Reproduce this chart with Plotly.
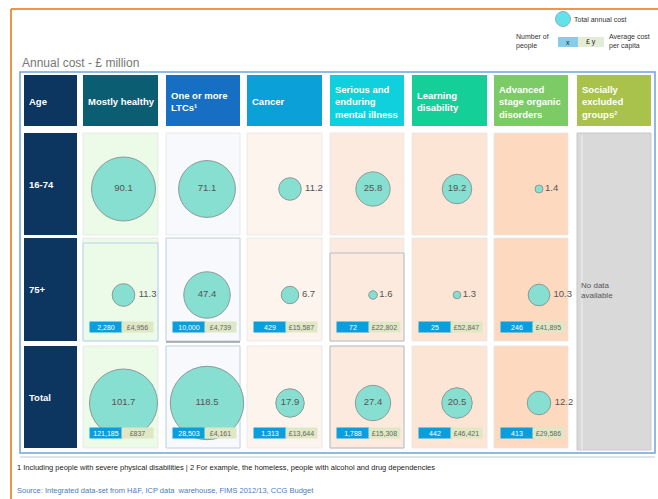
import plotly.graph_objects as go

# ---------------- data ----------------
headers = ["Age", "Mostly healthy", "One or more<br>LTCs¹", "Cancer",
           "Serious and<br>enduring<br>mental illness", "Learning<br>disability",
           "Advanced<br>stage organic<br>disorders", "Socially<br>excluded<br>groups²"]
age_groups = ["16-74", "75+", "Total"]
cost_16_74 = [90.1, 71.1, 11.2, 25.8, 19.2, 1.4]
cost_75 = [11.3, 47.4, 6.7, 1.6, 1.3, 10.3]
cost_total = [101.7, 118.5, 17.9, 27.4, 20.5, 12.2]
people_75 = ["2,280", "10,000", "429", "72", "25", "246"]
avg_75 = ["£4,956", "£4,739", "£15,587", "£22,802", "£52,847", "£41,895"]
people_total = ["121,185", "28,503", "1,313", "1,788", "442", "413"]
avg_total = ["£837", "£4,161", "£13,644", "£15,308", "£46,421", "£29,586"]

# ---------------- layout constants ----------------
W, H = 658, 499
FONT = "Liberation Sans, Arial, sans-serif"
header_colors = ["#0c355f", "#0b5e72", "#166fc3", "#0ba0d8", "#0fd0dc",
                 "#15cf99", "#7ccb66", "#a8c24b"]
cell_colors = ["#ebfbe8", "#f7f9fc", "#fdf4ee", "#fdeade", "#fde5d6", "#fdd9c0"]
col_left = [24, 83, 166, 247, 330, 412, 494, 577]
col_right = [77, 158, 240, 322, 404, 487, 568, 651]
hdr_top, hdr_bot = 75, 126
row_top = [133, 238, 346]
row_bot = [235, 341, 448]
bubble_x = [123.5, 207, 290, 373, 457, 539]
bubble_y = [189, 295, 403]

shapes = []
ann = []

def rect(x0, y0, x1, y1, fill, line=None, lw=0):
    shapes.append(dict(type="rect", xref="x", yref="y", x0=x0, y0=y0, x1=x1, y1=y1,
                       fillcolor=fill, line=dict(color=line or fill, width=lw),
                       layer="below"))

def text(x, y, s, size=9, color="#333", bold=False, xanchor="left", yanchor="middle", align="left"):
    if bold:
        s = "<b>" + s + "</b>"
    ann.append(dict(x=x, y=y, xref="x", yref="y", text=s, showarrow=False,
                    xanchor=xanchor, yanchor=yanchor, align=align,
                    font=dict(family=FONT, size=size, color=color)))

# orange frame lines
shapes.append(dict(type="line", xref="x", yref="y", x0=11, y0=9, x1=W, y1=9,
                   line=dict(color="#f39343", width=2)))
shapes.append(dict(type="line", xref="x", yref="y", x0=11, y0=9, x1=11, y1=H,
                   line=dict(color="#f39343", width=2)))

# legend
text(514, 41, "Number of<br>people", size=7, color="#333")
rect(558, 37, 578, 47, "#86cde8")
rect(578, 37, 604, 47, "#e4ecd6")
text(568, 42, "x", size=7, color="#222", xanchor="center")
text(591, 42, "£ y", size=7, color="#222", xanchor="center")
text(607, 41, "Average cost<br>per capita", size=7, color="#333")
text(572, 19, "Total annual cost", size=7, color="#333")

# title
text(20, 63, "Annual cost - £ million", size=12, color="#777")

# outer frame
rect(20, 72, 655, 453, "rgba(0,0,0,0)", "#6fa3dc", 1.5)
shapes.append(dict(type="line", xref="x", yref="y", x0=20, y0=457, x1=655, y1=457,
                   line=dict(color="#b8c8dc", width=1)))

# header row
for i, h in enumerate(headers):
    rect(col_left[i], hdr_top, col_right[i], hdr_bot, header_colors[i])
    text(col_left[i] + 3, (hdr_top + hdr_bot) / 2 + 1, h, size=9.5, color="white", bold=True)

# age column
for r, a in enumerate(age_groups):
    rect(col_left[0], row_top[r], col_right[0], row_bot[r], header_colors[0])
    text(col_left[0] + 3, (row_top[r] + row_bot[r]) / 2, a, size=9.5, color="white", bold=True)

# data cells
for r in range(3):
    for c in range(6):
        rect(col_left[c + 1], row_top[r], col_right[c + 1], row_bot[r], cell_colors[c],
             "#e6e6e6", 0.8)
# a few accent borders like the reference
rect(col_left[1], row_top[1] + 5, col_right[1], row_bot[1], "rgba(0,0,0,0)", "#b5d3ef", 1)
rect(col_left[2], row_top[1], col_right[2], row_bot[1], "rgba(0,0,0,0)", "#c5d6e8", 1)
shapes.append(dict(type="line", xref="x", yref="y", x0=col_left[2], y0=row_bot[1] + 1,
                   x1=col_right[2], y1=row_bot[1] + 1, line=dict(color="#9a9a9a", width=1.5)))
rect(col_left[4], row_top[1] + 15, col_right[4], row_bot[1], "rgba(0,0,0,0)", "#b7bcc6", 1)
rect(col_left[4], row_top[2], col_right[4], row_bot[2], "rgba(0,0,0,0)", "#b7bcc6", 1)
rect(col_left[2], row_top[2], col_right[2], row_bot[2], "rgba(0,0,0,0)", "#c5d6e8", 1)

# socially excluded: no data
rect(col_left[7], row_top[0], col_right[7], row_bot[2] + 2, "#d9d9d9", "#c8c8c8", 1)
shapes.append(dict(type="line", xref="x", yref="y", x0=582, y0=row_top[0] + 2, x1=582,
                   y1=row_bot[2] + 2, line=dict(color="#eeeeee", width=1)))
text(579, 290, "No data<br>available", size=8, color="#555")

fig = go.Figure()

# bubbles
for r, costs in enumerate([cost_16_74, cost_75, cost_total]):
    pos = ["middle center" if v >= 15 else "middle right" for v in costs]
    fig.add_trace(go.Scatter(
        x=bubble_x, y=[bubble_y[r]] * 6, mode="markers+text",
        marker=dict(size=costs, sizemode="area", sizeref=0.044, color="#86dfd0",
                    line=dict(color="#8c9a98", width=1), opacity=1),
        text=[f"{v:.1f}" for v in costs],
        textposition=pos,
        textfont=dict(family=FONT, size=9.5, color="#555"),
        hoverinfo="skip", showlegend=False, cliponaxis=False))

# people / per-capita boxes (drawn above bubbles as annotations with backgrounds)
for r, (ppl, avg) in ((1, (people_75, avg_75)), (2, (people_total, avg_total))):
    yc = 327 if r == 1 else 433
    for c in range(6):
        x0 = col_left[c + 1] + 6
        ann.append(dict(x=x0, y=yc, xref="x", yref="y", text=ppl[c], showarrow=False,
                        xanchor="left", yanchor="middle", width=30, height=8, borderpad=1,
                        bgcolor="#0a9fdc", font=dict(family=FONT, size=7, color="white")))
        ann.append(dict(x=x0 + 32, y=yc, xref="x", yref="y", text=avg[c], showarrow=False,
                        xanchor="left", yanchor="middle", width=29, height=8, borderpad=1,
                        bgcolor="#dfe7c4", font=dict(family=FONT, size=7, color="#666")))

# legend bubble
fig.add_trace(go.Scatter(x=[563], y=[19], mode="markers",
                         marker=dict(size=15, color="#62e3ea", line=dict(color="#9ab", width=1)),
                         hoverinfo="skip", showlegend=False))

# footnotes
text(15, 467, "1 Including people with severe physical disabilities | 2 For example, the homeless, people with alcohol and drug dependencies",
     size=7.5, color="#222")
text(15, 490, "Source: Integrated data-set from H&amp;F, ICP data  warehouse, FIMS 2012/13, CCG Budget",
     size=7.5, color="#4a7cc0")

fig.update_layout(
    width=W, height=H, margin=dict(l=0, r=0, t=0, b=0),
    paper_bgcolor="white", plot_bgcolor="white",
    xaxis=dict(range=[0, W], visible=False, fixedrange=True),
    yaxis=dict(range=[H, 0], visible=False, fixedrange=True),
    shapes=shapes, annotations=ann,
)
fig.write_html("out.html", config={"displayModeBar": False},
               post_script="document.body.style.margin='0px';")
